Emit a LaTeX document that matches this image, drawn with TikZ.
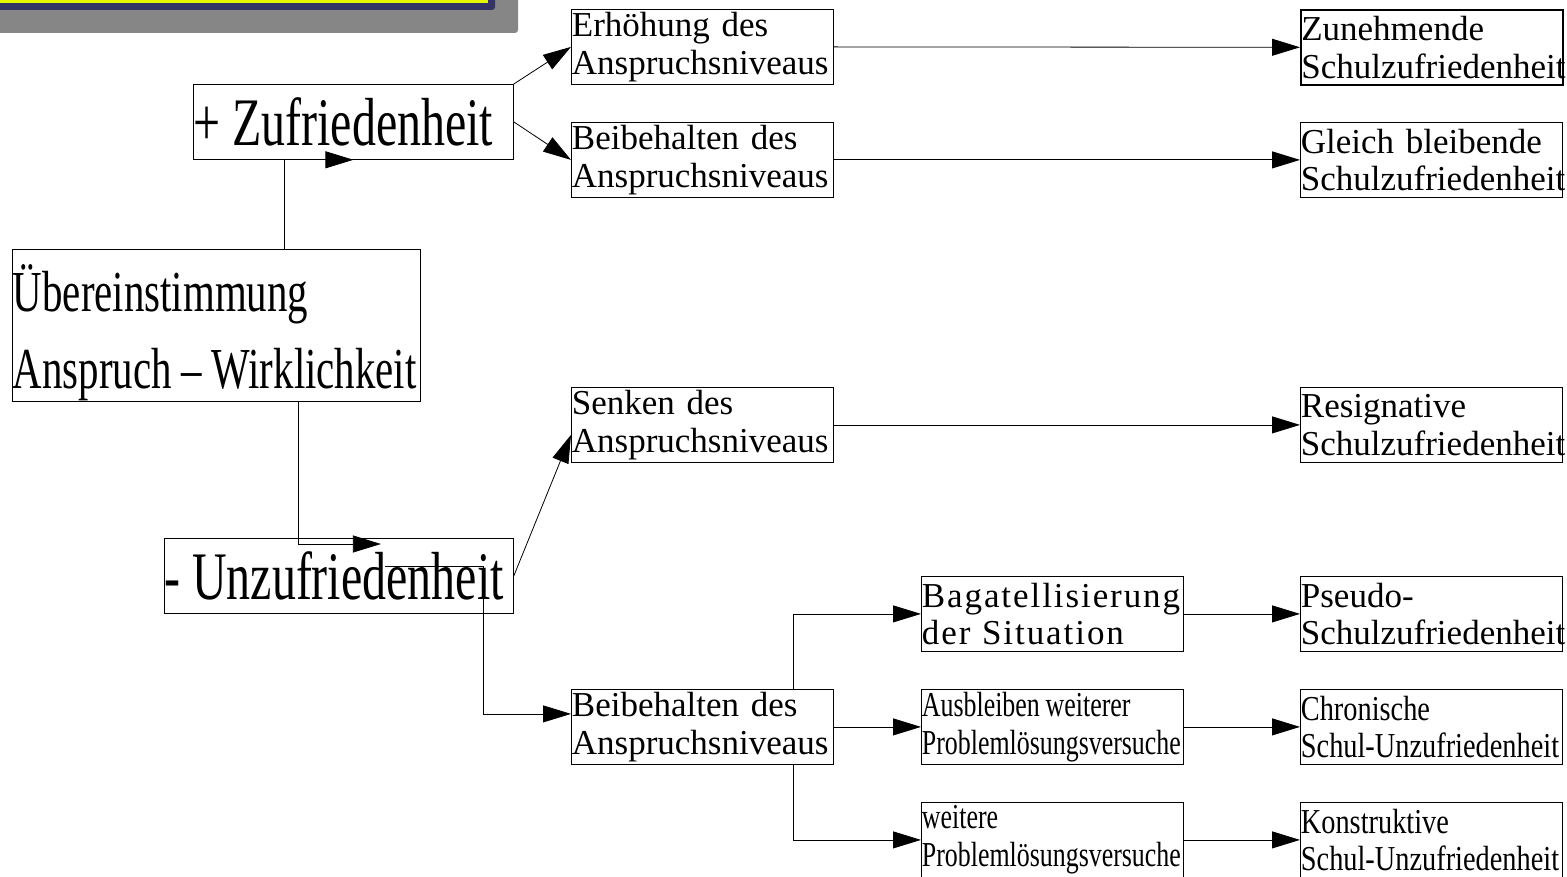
\documentclass[tikz,border=0pt]{standalone}
\usepackage{fontspec}
\setmainfont{Liberation Serif}
\newfontfamily\bigcond[FakeStretch=0.705]{Liberation Serif}
\newfontfamily\narrowA[FakeStretch=0.74]{Liberation Serif}
\newfontfamily\narrowB[FakeStretch=0.81]{Liberation Serif}
\newfontfamily\spaced[LetterSpace=5.5]{Liberation Serif}
\usetikzlibrary{positioning, arrows.meta, calc}
\hyphenpenalty=10000
\exhyphenpenalty=10000

\definecolor{bargray}{RGB}{134,134,134}
\definecolor{barnavy}{RGB}{51,51,102}
\definecolor{baryellow}{RGB}{230,245,0}

\tikzset{
  kasten/.style={draw, line width=0.8pt, anchor=north west, minimum width=262pt,
    minimum height=75pt, text width=261pt, inner xsep=0.5pt, inner ysep=0pt,
    align=left, font=\fontsize{35}{37.5}\selectfont},
  grosskasten/.style={kasten, font=\bigcond\fontsize{68}{70}\selectfont},
  arr/.style={-{Triangle[length=28pt,width=17pt]}, line width=0.8pt},
}

\begin{document}
\begin{tikzpicture}[x=1pt, y=-1pt]
    \useasboundingbox (0,0) rectangle (1567,877);

    % bar in the upper left corner
    \fill[bargray, rounded corners=3pt] (-10,-10) rectangle (518,33);
    \fill[barnavy, rounded corners=3pt] (-10,-10) rectangle (495,10);
    \fill[baryellow] (-10,-10) rectangle (488,3);

    % left column
    \node[grosskasten, text width=407pt, minimum height=152pt, text height=61pt,
          font=\bigcond\fontsize{58}{77}\selectfont] (ueber) at (12,249)
          {Übereinstimmung\\Anspruch\,–\,Wirklichkeit};
    \node[grosskasten, text width=319pt] (zuf) at (193,84) {+\,Zufriedenheit};
    \node[grosskasten, text width=348pt] (unzuf) at (164,538) {-\,Unzufriedenheit};

    % reaction of the aspiration level
    \node[kasten] (erh) at (571,9) {Erhöhung des\\Anspruchsniveaus};
    \node[kasten] (beibA) at (571,122) {Beibehalten des\\Anspruchsniveaus};
    \node[kasten] (senk) at (571,387) {Senken des\\Anspruchsniveaus};
    \node[kasten] (beibB) at (571,689) {Beibehalten des\\Anspruchsniveaus};

    % ways of coping
    \node[kasten, font=\spaced\fontsize{35}{37.5}\selectfont] (bagat) at (921,576)
          {Bagatellisierung\\der Situation};
    \node[kasten, font=\narrowA\fontsize{35}{37.5}\selectfont] (ausbl) at (921,689)
          {Ausbleiben\,weiterer\\Problemlösungsversuche};
    \node[kasten, font=\narrowA\fontsize{35}{37.5}\selectfont] (weit) at (921,802)
          {weitere\\Problemlösungsversuche};

    % forms of school satisfaction
    \node[kasten, line width=1.6pt] (zun) at (1300,9) {Zunehmende\\Schulzufriedenheit};
    \node[kasten] (gleich) at (1300,122) {Gleich bleibende\\Schulzufriedenheit};
    \node[kasten] (resig) at (1300,387) {Resignative\\Schulzufriedenheit};
    \node[kasten] (pseudo) at (1300,576) {Pseudo-\\Schulzufriedenheit};
    \node[kasten, font=\narrowB\fontsize{35}{37.5}\selectfont] (chron) at (1300,689)
          {Chronische\\Schul-Unzufriedenheit};
    \node[kasten, font=\narrowB\fontsize{35}{37.5}\selectfont] (konstr) at (1300,802)
          {Konstruktive\\Schul-Unzufriedenheit};

    % connectors
    \draw[arr] (ueber.north) -| ($(zuf.south)+(-69,0)$) -- (zuf.south);
    \draw[arr] (ueber.south) -| ($(unzuf.north)+(-41,6)$) -- ($(unzuf.north)+(42,6)$);
    \draw[arr] (zuf.north east) -- (erh.west);
    \draw[arr] (zuf.east) -- (beibA.west);
    \draw[arr] (unzuf.east) -- ($(senk.west)+(0,10)$);
    \draw[arr] ($(unzuf.center)+(46,-10)$) -- ++(98,0) |- ($(beibB.west)+(0,-13)$);
    \draw[arr] ($(beibB.north)+(91,0)$) |- (bagat.west);
    \draw[arr] (beibB.east) -- (ausbl.west);
    \draw[arr] ($(beibB.south)+(91,0)$) |- (weit.west);

    \foreach \a/\b in {erh/zun, beibA/gleich, senk/resig, bagat/pseudo, ausbl/chron, weit/konstr} {
        \draw[arr] (\a.east) -- (\b.west);
    };
\end{tikzpicture}
\end{document}
